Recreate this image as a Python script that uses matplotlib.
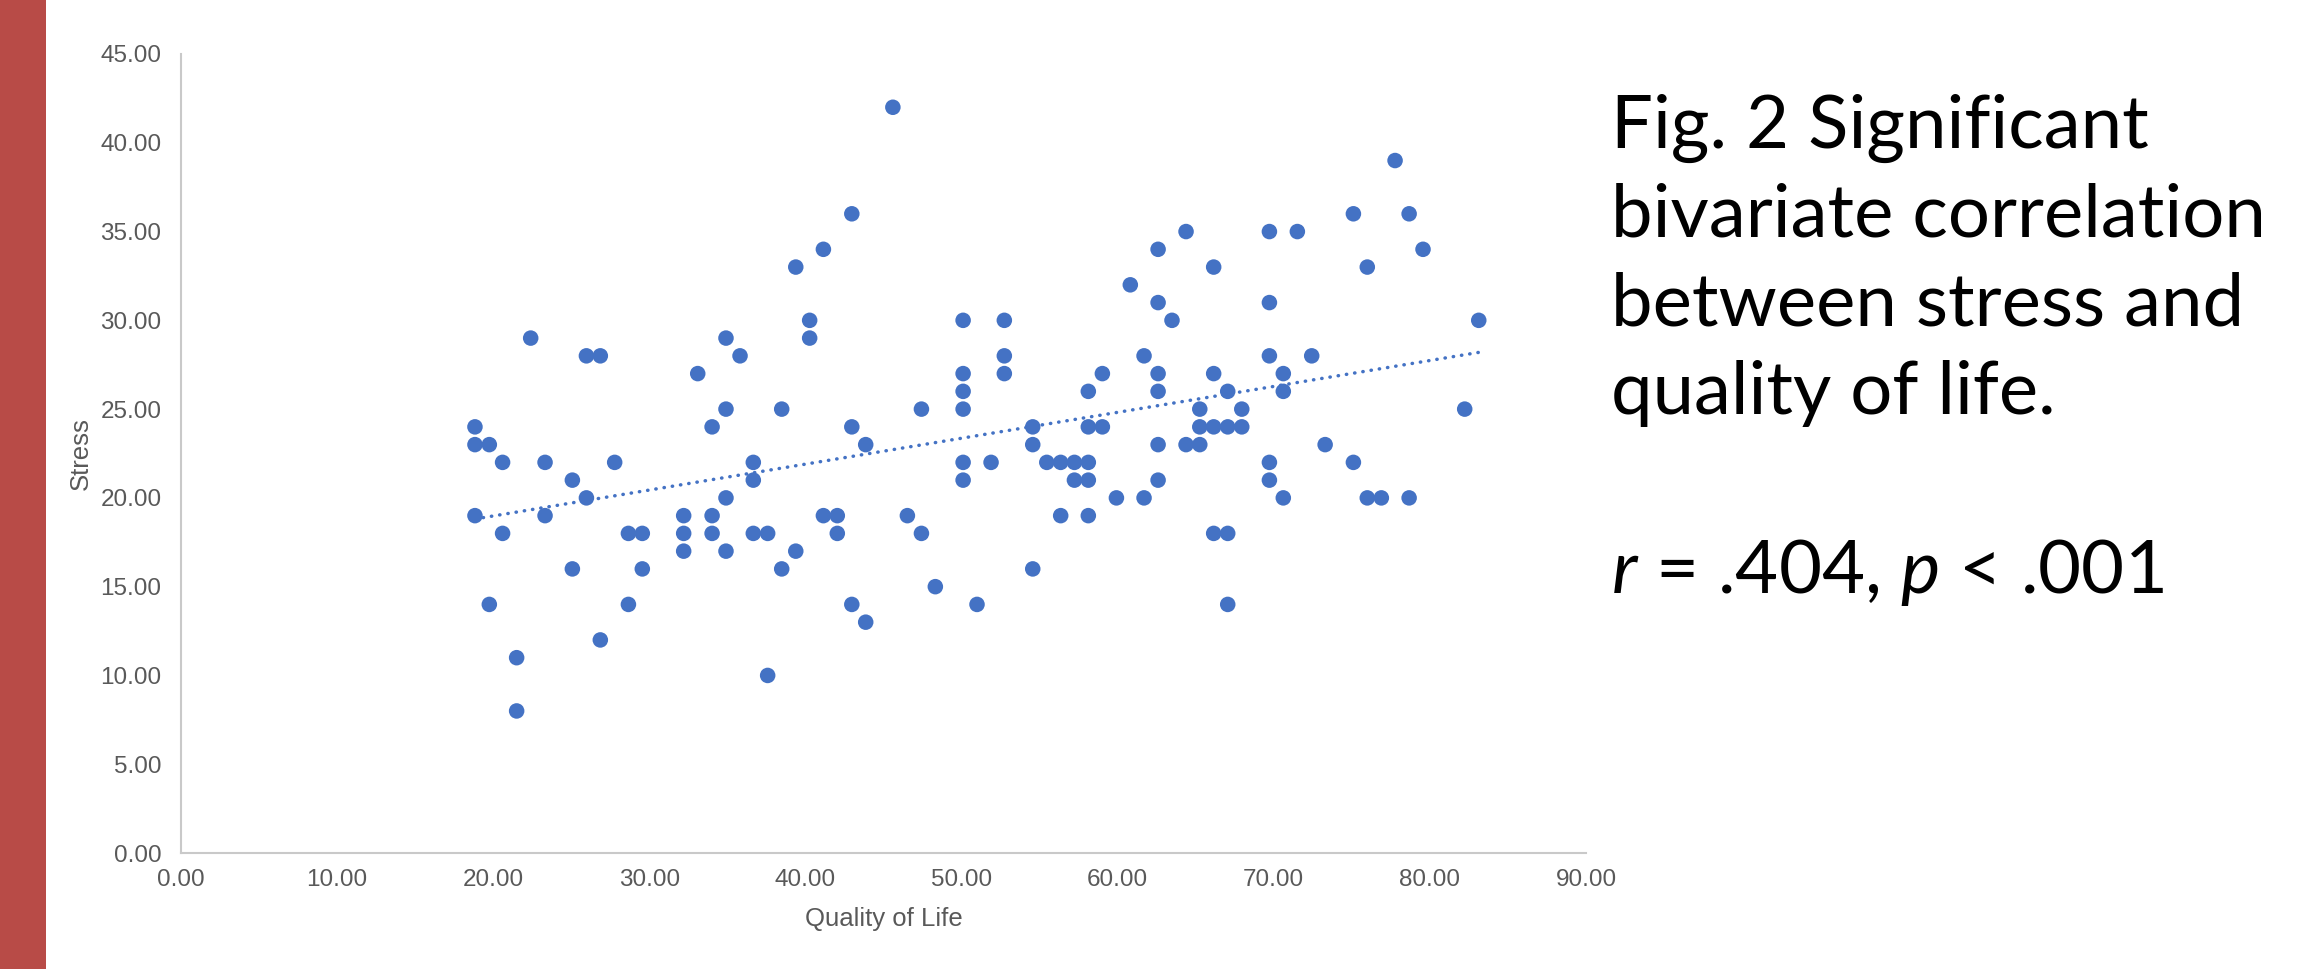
import numpy as np
import matplotlib
matplotlib.use('Agg')
import matplotlib.pyplot as plt
from matplotlib.patches import Rectangle

# Значения: стресс (целые) и качество жизни
stress = [42,
          39,
          36, 36, 36,
          35, 35, 35,
          34, 34, 34,
          33, 33, 33,
          32,
          31, 31,
          30, 30, 30, 30, 30,
          29, 29, 29,
          28, 28, 28, 28, 28, 28, 28,
          27, 27, 27, 27, 27, 27, 27,
          26, 26, 26, 26, 26,
          25, 25, 25, 25, 25, 25, 25,
          24, 24, 24, 24, 24, 24, 24, 24, 24, 24,
          23, 23, 23, 23, 23, 23, 23, 23,
          22, 22, 22, 22, 22, 22, 22, 22, 22, 22, 22, 22,
          21, 21, 21, 21, 21, 21, 21,
          20, 20, 20, 20, 20, 20, 20, 20,
          19, 19, 19, 19, 19, 19, 19, 19, 19,
          18, 18, 18, 18, 18, 18, 18, 18, 18, 18, 18,
          17, 17, 17,
          16, 16, 16, 16,
          15,
          14, 14, 14, 14, 14,
          13,
          12,
          11,
          10,
          8]

quality = [45.60,
           77.77,
           42.97, 75.10, 78.67,
           64.38, 69.72, 71.51,
           41.15, 62.59, 79.56,
           39.38, 66.15, 75.99,
           60.81,
           62.59, 69.72,
           40.27, 50.10, 52.74, 63.48, 83.13,
           22.40, 34.91, 40.27,
           25.97, 26.86, 35.81, 52.74, 61.69, 69.72, 72.43,
           33.10, 50.10, 52.74, 59.02, 62.59, 66.15, 70.61,
           50.10, 58.12, 62.59, 67.05, 70.61,
           34.91, 38.48, 47.43, 50.10, 65.26, 67.95, 82.23,
           18.83, 34.02, 42.97, 54.56, 58.12, 59.02, 65.26, 66.15, 67.05, 67.95,
           18.83, 19.75, 43.86, 54.56, 62.59, 64.38, 65.26, 73.29,
           20.60, 23.32, 27.78, 36.66, 50.10, 51.89, 55.46, 56.35, 57.23, 58.12, 69.72, 75.10,
           25.07, 36.66, 50.10, 57.23, 58.12, 62.59, 69.72,
           25.97, 34.91, 59.92, 61.69, 70.61, 75.99, 76.89, 78.67,
           18.83, 23.32, 32.20, 34.02, 41.15, 42.04, 46.53, 56.35, 58.12,
           20.60, 28.66, 29.55, 32.20, 34.02, 36.66, 37.58, 42.04, 47.43, 66.15, 67.05,
           32.20, 34.91, 39.38,
           25.07, 29.55, 38.48, 54.56,
           48.32,
           19.75, 28.66, 42.97, 50.99, 67.05,
           43.86,
           26.86,
           21.50,
           37.58,
           21.50]

title_lines = ["Fig. 2 Significant", "bivariate correlation",
               "between stress and", "quality of life."]
stats_line = r"$r$ = .404, $p$ < .001"

x = np.array(quality)
y = np.array(stress)

W, H = 2305, 969
fig = plt.figure(figsize=(W / 100, H / 100), dpi=100)
fig.patch.set_facecolor('white')

# Красная полоса слева
fig.patches.append(Rectangle((0, 0), 46 / W, 1, transform=fig.transFigure,
                             facecolor='#b84b47', edgecolor='none', zorder=0))

ax = fig.add_axes([181 / W, 1 - 853 / H, (1586 - 181) / W, (853 - 54) / H])

ax.scatter(x, y, s=125, color='#4472c4', edgecolors='none', zorder=3)

# Линейный тренд
k, b = np.polyfit(x, y, 1)
xt = np.array([x.min(), x.max()])
ax.plot(xt, k * xt + b, color='#4472c4', linewidth=2.5,
        linestyle=(0, (0.1, 2.3)), dash_capstyle='round', zorder=2)

ax.set_xlim(0, 90)
ax.set_ylim(0, 45)
ax.set_xticks(np.arange(0, 91, 10))
ax.set_yticks(np.arange(0, 46, 5))
ax.xaxis.set_major_formatter(matplotlib.ticker.FormatStrFormatter('%.2f'))
ax.yaxis.set_major_formatter(matplotlib.ticker.FormatStrFormatter('%.2f'))

for side in ['top', 'right']:
    ax.spines[side].set_visible(False)
for side in ['left', 'bottom']:
    ax.spines[side].set_color('#c9c9c9')
    ax.spines[side].set_linewidth(1.5)

ax.tick_params(axis='both', length=0, labelsize=17.5, labelcolor='#595959')
ax.tick_params(axis='y', pad=14)
ax.tick_params(axis='x', pad=11.5)
for lbl in ax.get_xticklabels() + ax.get_yticklabels():
    lbl.set_family('Liberation Sans')

ax.set_xlabel('Quality of Life', fontsize=18.5, color='#595959', family='Liberation Sans')
ax.set_ylabel('Stress', fontsize=18.5, color='#595959', family='Liberation Sans')
ax.xaxis.set_label_coords(0.5, -0.0676)
ax.yaxis.set_label_coords(-0.063, 0.5)

# Подпись справа
plt.rcParams['mathtext.fontset'] = 'custom'
plt.rcParams['mathtext.rm'] = 'Lato'
plt.rcParams['mathtext.it'] = 'Lato:italic'

baselines = [148, 237, 326, 414]
for line, yb in zip(title_lines, baselines):
    fig.text(1611 / W, 1 - yb / H, line, fontsize=53.5, family='Lato',
             color='black', va='baseline', ha='left')
fig.text(1611 / W, 1 - 593 / H, stats_line, fontsize=53.5, family='Lato',
         color='black', va='baseline', ha='left')

fig.savefig('out.png', dpi=100, facecolor='white')
